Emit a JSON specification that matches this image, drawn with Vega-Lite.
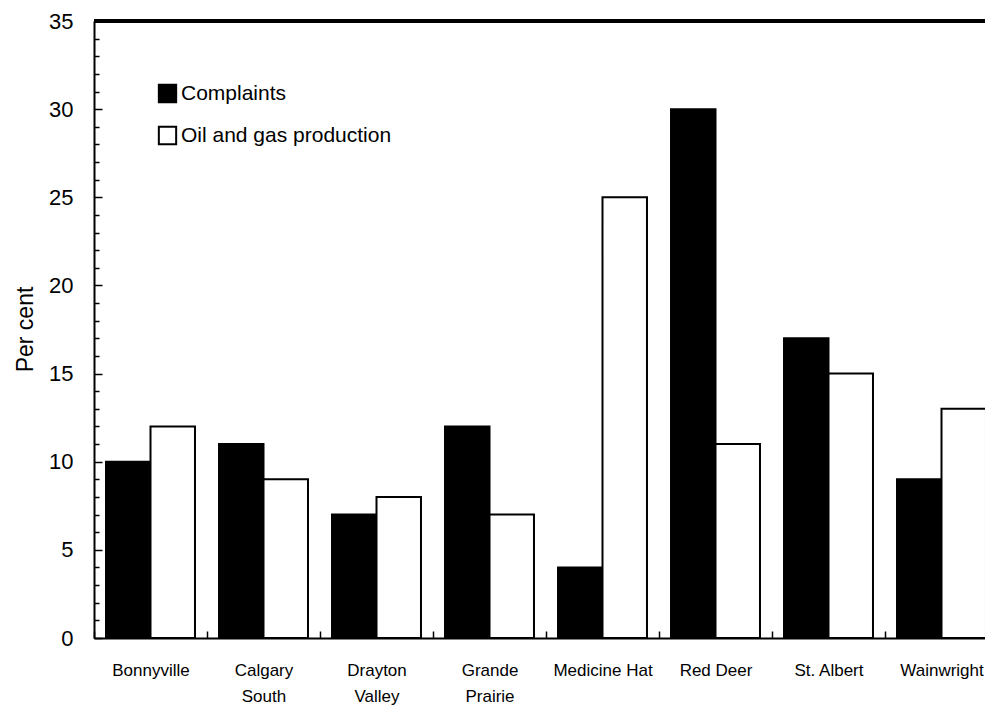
{
  "$schema": "https://vega.github.io/schema/vega-lite/v6.json",
  "width": 891,
  "height": 617,
  "autosize": {"type": "none"},
  "padding": {"left": 94, "top": 21, "right": 0, "bottom": 69},
  "background": "white",
  "config": {"view": {"stroke": null}, "font": "Liberation Sans"},
  "data": {
    "values": [
      {"office": "Bonnyville", "series": "Complaints", "value": 10},
      {"office": "Bonnyville", "series": "Oil and gas production", "value": 12},
      {"office": "Calgary South", "series": "Complaints", "value": 11},
      {"office": "Calgary South", "series": "Oil and gas production", "value": 9},
      {"office": "Drayton Valley", "series": "Complaints", "value": 7},
      {"office": "Drayton Valley", "series": "Oil and gas production", "value": 8},
      {"office": "Grande Prairie", "series": "Complaints", "value": 12},
      {"office": "Grande Prairie", "series": "Oil and gas production", "value": 7},
      {"office": "Medicine Hat", "series": "Complaints", "value": 4},
      {"office": "Medicine Hat", "series": "Oil and gas production", "value": 25},
      {"office": "Red Deer", "series": "Complaints", "value": 30},
      {"office": "Red Deer", "series": "Oil and gas production", "value": 11},
      {"office": "St. Albert", "series": "Complaints", "value": 17},
      {"office": "St. Albert", "series": "Oil and gas production", "value": 15},
      {"office": "Wainwright", "series": "Complaints", "value": 9},
      {"office": "Wainwright", "series": "Oil and gas production", "value": 13}
    ]
  },
  "layer": [
    {
      "mark": {"type": "bar", "stroke": "black", "strokeWidth": 2},
      "encoding": {
        "x": {
          "field": "office",
          "type": "nominal",
          "sort": null,
          "scale": {"range": [0, 904], "paddingInner": 0, "paddingOuter": 0},
          "axis": {
            "title": null,
            "tickBand": "extent",
            "tickSize": -7,
            "tickColor": "black",
            "tickWidth": 1.5,
            "domainColor": "black",
            "domainWidth": 2,
            "labelFont": "Liberation Sans",
            "labelFontSize": 17,
            "labelColor": "black",
            "labelPadding": 31,
            "labelAngle": 0,
            "labelBaseline": "top",
            "labelLineHeight": 26,
            "labelExpr": "indexof(['Calgary South','Drayton Valley','Grande Prairie'], datum.label) >= 0 ? split(datum.label, ' ') : datum.label"
          }
        },
        "xOffset": {
          "field": "series",
          "type": "nominal",
          "sort": ["Complaints", "Oil and gas production"],
          "scale": {"paddingInner": 0, "paddingOuter": 0.27}
        },
        "y": {
          "field": "value",
          "type": "quantitative",
          "scale": {"domain": [0, 35], "nice": false},
          "axis": {
            "title": "Per cent",
            "grid": false,
            "values": [0,1,2,3,4,5,6,7,8,9,10,11,12,13,14,15,16,17,18,19,20,21,22,23,24,25,26,27,28,29,30,31,32,33,34,35],
            "tickCount": 40,
            "labelExpr": "datum.value % 5 === 0 ? datum.label : ''",
            "labelOverlap": false,
            "tickSize": {"condition": {"test": "datum.value % 5 === 0", "value": -8}, "value": -5},
            "tickColor": "black",
            "tickWidth": 1.5,
            "domainColor": "black",
            "domainWidth": 2,
            "labelFont": "Liberation Sans",
            "labelFontSize": 22,
            "labelColor": "black",
            "labelPadding": 29,
            "titleFont": "Liberation Sans",
            "titleFontSize": 23,
            "titleFontWeight": "normal",
            "titleColor": "black",
            "titleX": -62,
            "titleY": 308,
            "titleAlign": "center",
            "titleBaseline": "alphabetic",
            "titleAngle": -90
          }
        },
        "fill": {
          "field": "series",
          "type": "nominal",
          "scale": {"domain": ["Complaints", "Oil and gas production"], "range": ["black", "white"]},
          "legend": {
            "title": null,
            "orient": "none",
            "legendX": 63,
            "legendY": 62,
            "padding": 0,
            "symbolType": "square",
            "symbolSize": 300,
            "symbolStrokeColor": "black",
            "symbolStrokeWidth": 2,
            "symbolOpacity": 1,
            "labelFont": "Liberation Sans",
            "labelFontSize": 21,
            "labelColor": "black",
            "labelOffset": 3,
            "labelLimit": 500,
            "rowPadding": 15
          }
        }
      }
    },
    {
      "mark": {"type": "rule", "strokeWidth": 2.5, "color": "black"},
      "encoding": {"y": {"datum": 35}}
    }
  ]
}
